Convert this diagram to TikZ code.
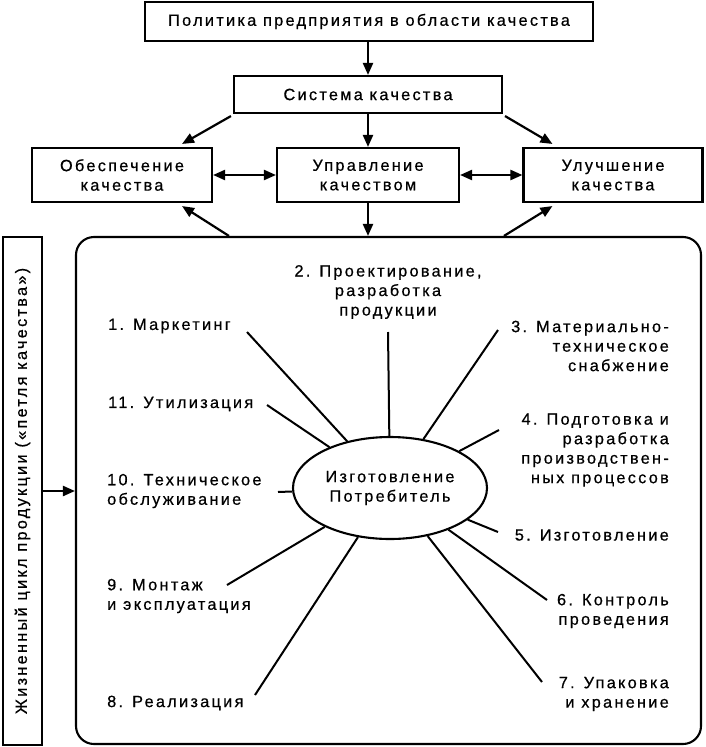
\documentclass[tikz,border=0pt]{standalone}
\usepackage{fontspec}
\setmainfont{Liberation Sans}[LetterSpace=14,FakeBold=0.6]
\usetikzlibrary{arrows.meta,shapes.geometric,calc}
\tikzset{
  box/.style={draw, line width=2.1pt, inner sep=0pt, align=center},
  arr/.style={line width=2.2pt, -{Triangle[length=12pt,width=10pt]}},
  darr/.style={line width=2.2pt, {Triangle[length=12pt,width=10pt]}-{Triangle[length=12pt,width=10pt]}},
  spoke/.style={line width=2pt},
  lbl/.style={inner sep=0pt, font=\fontsize{16.3}{19.5}\selectfont},
}
\begin{document}
\begin{tikzpicture}[x=1pt,y=-1pt,font=\fontsize{16.3}{19.5}\selectfont]
\useasboundingbox (0,0) rectangle (705,747);
% top boxes
\node[box, minimum width=448pt, minimum height=39pt] (top) at (369,21.5) {Политика предприятия в области качества};
\node[box, minimum width=268pt, minimum height=37pt] (sys) at (368,94.5) {Система качества};
\node[box, minimum width=180pt, minimum height=54pt] (obesp) at (122,175) {Обеспечение\\качества};
\node[box, minimum width=182pt, minimum height=54pt] (upr) at (368,175) {Управление\\качеством};
\node[box, minimum width=179pt, minimum height=54pt] (uluch) at (613,175) {Улучшение\\качества};
% big rounded box and left box
\node[draw, line width=2.1pt, rounded corners=18pt, minimum width=625pt, minimum height=507pt, inner sep=0pt] (big) at (388.5,490.5) {};
\node[box, minimum width=39pt, minimum height=508pt] (left) at (22.5,491) {};
\node[inner sep=0pt, rotate=90] (lefttext) at (left.center) {Жизненный цикл продукции («петля качества»)};
% arrows
\draw[arr] (sys.north |- top.south) -- (sys.north);
\draw[arr] ($(sys.south west)+(-2,2)$) -- ($(obesp.north east)+(-31,-3)$);
\draw[arr] (sys.south) -- (upr.north);
\draw[arr] ($(sys.south east)+(2,2)$) -- ($(uluch.north west)+(30,-3)$);
\draw[darr] (obesp.east) -- (upr.west);
\draw[darr] (upr.east) -- (uluch.west);
\draw[arr] (upr.south) -- (upr.south |- big.north);
\draw[arr] ($(big.north west)+(154,0)$) -- ($(obesp.south east)+(-31,3)$);
\draw[arr] ($(big.north west)+(429,0)$) -- ($(uluch.south west)+(30,3)$);
\draw[arr] (left.east) -- (left.east -| big.west);
% ellipse
\node[draw, ellipse, line width=2.1pt, minimum width=194pt, minimum height=102pt, inner sep=0pt, align=center] (ell) at (390,488) {Изготовление\\Потребитель};
% labels
\node[lbl, align=center] (l2) at (388,292) {2. Проектирование,\\разработка\\продукции};
\node[lbl, anchor=west] (l1) at (108,326) {1. Маркетинг};
\node[lbl, anchor=west] (l11) at (108,404) {11. Утилизация};
\node[lbl, anchor=west, align=left] (l10) at (107,491) {10. Техническое\\обслуживание};
\node[lbl, anchor=west, align=left] (l9) at (107,596) {9. Монтаж\\и эксплуатация};
\node[lbl, anchor=west] (l8) at (107,703) {8. Реализация};
\node[lbl, anchor=east, align=right] (l3) at (669,346) {3. Материально-\\техническое\\снабжение};
\node[lbl, anchor=east, align=right] (l4) at (669,450) {4. Подготовка и\\разработка\\производствен-\\ных процессов};
\node[lbl, anchor=east] (l5) at (669,535) {5. Изготовление};
\node[lbl, anchor=east, align=right] (l6) at (669,611) {6. Контроль\\проведения};
\node[lbl, anchor=east, align=right] (l7) at (669,694) {7. Упаковка\\и хранение};
% spokes
\coordinate (c1) at (247,332);
\coordinate (c2) at (388,332);
\coordinate (c3) at (498,330);
\coordinate (c4) at (499,430);
\coordinate (c5) at (498,532);
\coordinate (c6) at (547,600);
\coordinate (c7) at (542,682);
\coordinate (c8) at (255,695);
\coordinate (c9) at (227,585);
\coordinate (c10) at (278,492);
\coordinate (c11) at (267,405);
\foreach \c in {c1,c2,c3,c4,c5,c6,c7,c8,c9,c10,c11}{
  \draw[spoke] (\c) -- (ell);
}
\end{tikzpicture}
\end{document}
